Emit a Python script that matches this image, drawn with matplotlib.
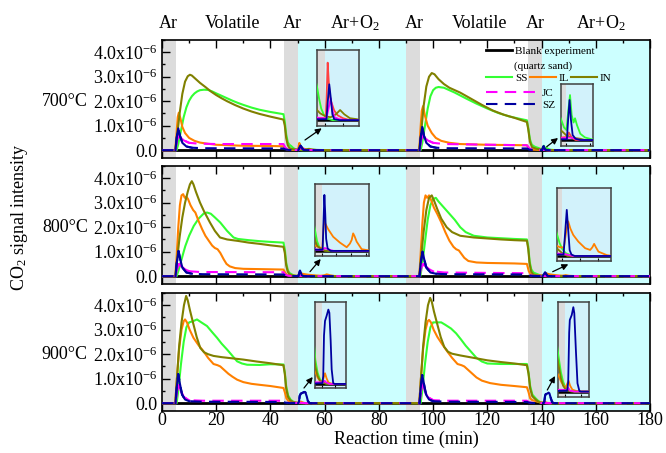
import matplotlib
matplotlib.use("Agg")
import matplotlib.pyplot as plt
import matplotlib.transforms as mtransforms
from matplotlib.ticker import MultipleLocator, FuncFormatter

plt.rcParams['font.family'] = 'Liberation Serif'
plt.rcParams['mathtext.fontset'] = 'custom'
plt.rcParams['mathtext.rm'] = 'Liberation Serif'
plt.rcParams['mathtext.it'] = 'Liberation Serif:italic'
plt.rcParams['font.size'] = 13
plt.rcParams['axes.linewidth'] = 1.2

# CO2 signal (x1e-6) vs reaction time (min), two repeated runs per temperature
temps = ['700°C', '800°C', '900°C']
stages = ['Ar', 'Volatile', 'Ar', 'Ar+O$_2$', 'Ar', 'Volatile', 'Ar', 'Ar+O$_2$']
stage_pos = [2.2, 26, 48, 71, 93, 117, 137.6, 162]
purge_spans = [(0, 5), (45, 50), (90, 95), (135, 140)]
o2_spans = [(50, 90), (140, 180)]
blank = [(0, 0), (180, 0)]
# time windows where the dashed traces are drawn continuous (sharp peaks)
peak_windows = [(4.5, 11), (49.5, 56), (94.5, 101), (139.5, 146)]

ss_700 = [(0, 0), (5.4, 0), (6, 0.25), (7, 0.8), (8, 1.35), (9, 1.75), (10, 2.02), (11, 2.2), (12, 2.32), (13, 2.4),
          (14, 2.45), (15.5, 2.47), (17, 2.46), (18.5, 2.4), (20, 2.32), (22, 2.22), (24, 2.12), (26, 2.02), (28, 1.93),
          (30, 1.85), (33, 1.74), (36, 1.65), (40, 1.56), (44.8, 1.47), (45.3, 1.15), (45.8, 0.65), (46.4, 0.32),
          (47.0, 0.22), (47.6, 0.172), (48.2, 0.11), (48.8, 0.06), (49.5, 0.03), (50.3, 0.01), (52, 0), (90, 0),
          (95.4, 0), (96, 0.3), (97, 1.0), (98, 1.7), (99, 2.2), (100, 2.45), (101, 2.55), (102, 2.58), (104, 2.55),
          (106, 2.45), (108, 2.35), (112, 2.12), (116, 1.9), (120, 1.7), (124, 1.52), (128, 1.38), (132, 1.28),
          (134.6, 1.22), (135.1, 0.9), (135.7, 0.45), (136.4, 0.22), (137.5, 0.14), (138.9, 0.087), (139.6, 0.05),
          (140.1, 0.04), (140.5, 0.12), (140.85, 0.18), (141.2, 0.1), (141.6, 0.07), (141.9, 0.087), (142.3, 0.06),
          (143, 0.025), (144, 0.01), (146, 0), (180, 0)]
il_700 = [(0, 0), (4.9, 0), (5.3, 0.6), (5.8, 1.35), (6.2, 1.53), (6.8, 1.3), (7.5, 0.95), (8.5, 0.7), (10, 0.5),
          (12, 0.38), (14, 0.31), (17, 0.26), (20, 0.22), (25, 0.2), (30, 0.18), (40, 0.17), (44.8, 0.16), (45.4, 0.08),
          (46, 0.03), (47, 0.012), (50.1, 0.01), (50.35, 0.12), (50.65, 0.295), (50.95, 0.2), (51.3, 0.12),
          (51.8, 0.087), (52.5, 0.05), (53.5, 0.025), (55, 0.01), (57, 0), (90, 0), (94.9, 0), (95.3, 0.8),
          (95.8, 1.6), (96.3, 1.8), (97, 1.4), (98, 1.0), (99.5, 0.7), (101, 0.5), (103, 0.38), (106, 0.3),
          (110, 0.25), (120, 0.22), (134.6, 0.2), (135.5, 0.06), (137, 0.02), (139, 0.01), (140.3, 0.012),
          (140.6, 0.03), (141.2, 0.01), (142, 0), (180, 0)]
in_700 = [(0, 0), (4.8, 0), (5.5, 0.5), (6.5, 1.5), (7.5, 2.3), (8.5, 2.8), (9.5, 3.02), (10.3, 3.08), (11, 3.05),
          (12, 2.95), (14, 2.75), (16, 2.58), (18, 2.4), (20, 2.25), (22, 2.12), (24, 2.0), (27, 1.84), (30, 1.7),
          (33, 1.58), (36, 1.48), (40, 1.37), (44.8, 1.25), (45.3, 1.0), (45.8, 0.5), (46.4, 0.2), (47, 0.09),
          (47.6, 0.052), (48.5, 0.035), (50, 0.02), (51.5, 0.015), (53, 0.03), (54.2, 0.052), (55.4, 0.03),
          (57, 0.01), (59, 0.005), (60, 0), (90, 0), (94.8, 0), (95.5, 0.6), (96.5, 1.8), (97.5, 2.6), (98.5, 3.0),
          (99.5, 3.15), (100.5, 3.1), (102, 2.9), (104, 2.7), (106, 2.55), (108, 2.45), (110, 2.35), (114, 2.1),
          (118, 1.85), (122, 1.62), (126, 1.45), (130, 1.32), (134.6, 1.15), (135.1, 0.85), (135.7, 0.35),
          (136.5, 0.12), (138, 0.06), (138.9, 0.04), (140, 0.02), (141, 0.01), (143, 0.005), (144, 0), (180, 0)]
jc_700 = [(0, 0), (5, 0), (5.5, 0.4), (6.2, 0.6), (7, 0.5), (8, 0.4), (10, 0.3), (13, 0.27), (20, 0.25), (44.8, 0.25),
          (45.5, 0.1), (46.5, 0.03), (48, 0.01), (50.3, 0.01), (50.9, 0.06), (51.5, 0.112), (52, 0.05), (52.6, 0.015),
          (54, 0.005), (56, 0), (90, 0), (95, 0), (95.5, 0.4), (96.2, 0.6), (97, 0.5), (98, 0.4), (100, 0.3),
          (104, 0.25), (134.6, 0.2), (135.5, 0.07), (137, 0.02), (139, 0.007), (141, 0.01), (142, 0.005), (143, 0),
          (180, 0)]
sz_700 = [(0, 0), (5, 0), (5.4, 0.5), (6, 0.89), (6.6, 0.6), (7.5, 0.3), (9, 0.15), (11, 0.1), (15, 0.08), (44.8, 0.07),
          (45.5, 0.03), (47, 0.005), (50.3, 0.005), (50.7, 0.1), (51.1, 0.184), (51.5, 0.12), (52, 0.03), (52.5, 0.005),
          (54, 0), (90, 0), (95, 0), (95.4, 0.5), (96, 0.95), (96.6, 0.6), (97.5, 0.3), (99, 0.15), (101, 0.1),
          (105, 0.08), (134.6, 0.07), (135.5, 0.02), (137, 0.003), (140.2, 0.003), (140.45, 0.08), (140.75, 0.16),
          (141.05, 0.08), (141.4, 0.02), (142, 0.005), (143, 0), (180, 0)]

ss_800 = [(0, 0), (5.4, 0), (6, 0.2), (7, 0.6), (8, 1.0), (8.6, 1.23), (10, 1.65), (11.7, 2.05), (13.5, 2.35),
          (15.4, 2.56), (16.6, 2.6), (18, 2.55), (19.5, 2.4), (21.5, 2.19), (24, 1.85), (26.4, 1.58), (28, 1.52),
          (32, 1.47), (36, 1.43), (40, 1.4), (44.8, 1.37), (45.3, 1.1), (45.8, 0.55), (46.4, 0.25), (47, 0.13),
          (47.7, 0.086), (48.4, 0.04), (49.2, 0.015), (50.5, 0.005), (52, 0), (90, 0), (95.3, 0), (96, 0.5),
          (97, 1.4), (98, 2.3), (99, 2.9), (100, 3.15), (101, 3.2), (102, 3.05), (104, 2.8), (106, 2.55), (108, 2.3),
          (110, 2.0), (112, 1.8), (115, 1.65), (120, 1.58), (125, 1.55), (130, 1.52), (134.6, 1.5), (135.1, 1.2),
          (135.6, 0.6), (136.2, 0.28), (137, 0.15), (138.5, 0.079), (139.3, 0.045), (140, 0.025), (141, 0.01),
          (142, 0.005), (143, 0), (180, 0)]
il_800 = [(0, 0), (4.9, 0), (5.4, 0.8), (6, 2.0), (6.6, 2.9), (7.2, 3.3), (7.8, 3.35), (8.4, 3.2), (9, 3.25),
          (9.6, 3.15), (10.5, 2.9), (11.5, 2.7), (12.3, 2.6), (13.5, 2.25), (14.8, 1.92), (16, 1.65), (17.3, 1.44),
          (18.5, 1.25), (19.5, 1.15), (20.5, 1.1), (21.5, 0.95), (22.8, 0.68), (23.8, 0.5), (25, 0.4), (27, 0.33),
          (30, 0.3), (35, 0.29), (40, 0.28), (44.8, 0.27), (45.4, 0.15), (46, 0.06), (47, 0.03), (48, 0.02),
          (50.2, 0.01), (50.5, 0.07), (50.8, 0.127), (51.3, 0.11), (52.2, 0.089), (53.9, 0.058), (56.2, 0.034),
          (58.5, 0.015), (59.6, 0.03), (60.2, 0.045), (60.7, 0.072), (61.2, 0.06), (61.9, 0.038), (63.6, 0.007),
          (66, 0.002), (68, 0), (90, 0), (94.9, 0), (95.4, 0.9), (96, 2.1), (96.6, 3.0), (97.2, 3.3), (97.8, 3.2),
          (98.5, 3.3), (99.3, 3.1), (100.3, 2.8), (101.5, 2.55), (103, 2.2), (104.5, 1.8), (106, 1.45), (107.5, 1.2),
          (108.5, 1.1), (109.5, 1.05), (110.5, 0.9), (111.5, 0.75), (113, 0.62), (116, 0.56), (120, 0.54),
          (130, 0.52), (134.6, 0.5), (135.3, 0.2), (136, 0.08), (137, 0.045), (138.5, 0.035), (139.5, 0.03),
          (140.5, 0.03), (141.2, 0.09), (141.7, 0.12), (142.3, 0.095), (143.1, 0.073), (144.5, 0.05), (146.4, 0.027),
          (147.8, 0.021), (148.4, 0.03), (148.9, 0.042), (149.4, 0.03), (150.1, 0.015), (152.4, 0.003), (154, 0),
          (180, 0)]
in_800 = [(0, 0), (4.9, 0), (5.5, 0.6), (6.5, 1.6), (7.5, 2.4), (8.5, 3.0), (9.5, 3.45), (10.3, 3.75), (11, 3.88),
          (11.6, 3.75), (12.5, 3.45), (14, 3.01), (15.5, 2.65), (17.7, 2.19), (19.5, 1.85), (21.4, 1.58), (24, 1.5),
          (28, 1.44), (32, 1.37), (36, 1.32), (40, 1.26), (44.8, 1.2), (45.3, 0.95), (45.8, 0.45), (46.4, 0.18),
          (47, 0.08), (47.7, 0.044), (48.5, 0.02), (49.5, 0.01), (51, 0), (90, 0), (94.9, 0), (95.5, 0.7),
          (96.5, 1.8), (97.5, 2.7), (98.5, 3.2), (99.5, 3.3), (100.3, 3.1), (101.5, 2.75), (103, 2.35), (105, 2.0),
          (107, 1.8), (110, 1.65), (115, 1.58), (120, 1.54), (125, 1.5), (130, 1.47), (134.6, 1.45), (135.1, 1.1),
          (135.6, 0.5), (136.2, 0.18), (137, 0.07), (138.5, 0.027), (140, 0.01), (141.5, 0), (180, 0)]
jc_800 = [(0, 0), (5, 0), (5.5, 0.3), (6.3, 0.5), (7.2, 0.4), (8.5, 0.28), (10, 0.2), (14, 0.17), (44.8, 0.16),
          (45.5, 0.06), (46.5, 0.02), (48, 0.005), (50.5, 0.005), (51, 0.012), (52.5, 0.005), (54, 0), (90, 0),
          (95, 0), (95.5, 0.3), (96.3, 0.5), (97.2, 0.4), (98.5, 0.28), (100, 0.2), (104, 0.15), (134.6, 0.12),
          (135.5, 0.04), (137, 0.01), (141, 0.006), (142, 0.003), (143, 0), (180, 0)]
sz_800 = [(0, 0), (5, 0), (5.4, 0.5), (6.1, 1.03), (6.7, 0.7), (7.5, 0.35), (9, 0.15), (11, 0.1), (15, 0.08),
          (44.8, 0.07), (45.5, 0.03), (47, 0.005), (50.3, 0.005), (50.6, 0.12), (50.9, 0.23), (51.2, 0.15),
          (51.5, 0.05), (52, 0.01), (53, 0), (90, 0), (95, 0), (95.4, 0.5), (96.1, 1.0), (96.7, 0.7), (97.5, 0.35),
          (99, 0.15), (101, 0.1), (105, 0.08), (134.6, 0.07), (135.5, 0.03), (137, 0.005), (140.4, 0.005),
          (140.9, 0.09), (141.3, 0.16), (141.7, 0.09), (142.1, 0.02), (142.6, 0.005), (143.5, 0), (180, 0)]

ss_900 = [(0, 0), (5.4, 0), (6, 0.5), (7, 1.6), (8, 2.5), (9, 3.1), (10, 3.3), (11.5, 3.35), (12.9, 3.42), (14.5, 3.3),
          (16.6, 3.15), (18.5, 2.9), (20.3, 2.67), (22, 2.43), (24, 2.19), (26, 1.93), (27.7, 1.71), (29.5, 1.62),
          (31.4, 1.57), (36, 1.56), (40, 1.59), (44.8, 1.58), (45.3, 1.25), (45.8, 0.7), (46.5, 0.32), (47.4, 0.15),
          (48.3, 0.07), (49.2, 0.03), (50.2, 0.01), (51.5, 0.003), (53, 0), (90, 0), (95.4, 0), (96, 0.5), (97, 1.6),
          (98, 2.5), (99, 3.1), (100, 3.3), (101.5, 3.3), (103, 3.3), (104.5, 3.2), (106.6, 3.05), (108.5, 2.85),
          (110.3, 2.6), (112, 2.35), (114, 2.1), (116, 1.85), (118, 1.7), (120, 1.62), (125, 1.6), (130, 1.6),
          (134.6, 1.6), (135.2, 1.25), (135.8, 0.7), (136.6, 0.35), (137.9, 0.187), (138.7, 0.1), (139.4, 0.05),
          (140.2, 0.02), (141.5, 0.005), (143, 0), (180, 0)]
il_900 = [(0, 0), (4.9, 0), (5.5, 1.0), (6.3, 2.2), (7.2, 3.0), (8, 3.35), (8.5, 3.42), (9.2, 3.3), (10.2, 3.0),
          (11.6, 2.67), (13.4, 2.38), (15.3, 2.12), (17, 1.85), (19, 1.6), (20.5, 1.55), (21.5, 1.5), (23, 1.35),
          (24.5, 1.2), (26, 1.08), (27.7, 0.96), (30, 0.86), (33, 0.79), (36, 0.75), (40, 0.7), (44.8, 0.62),
          (45.3, 0.45), (45.9, 0.2), (46.6, 0.1), (47.4, 0.075), (48.3, 0.04), (49.2, 0.02), (50, 0.012),
          (50.6, 0.035), (51.2, 0.066), (51.8, 0.035), (52.5, 0.01), (53.5, 0.003), (55, 0), (90, 0), (94.9, 0),
          (95.5, 1.0), (96.3, 2.2), (97.2, 3.0), (98, 3.35), (98.5, 3.4), (99.2, 3.3), (100.2, 3.0), (101.6, 2.7),
          (103.4, 2.4), (105.3, 2.1), (107, 1.85), (109, 1.6), (110.5, 1.55), (111.5, 1.5), (113, 1.35), (114.5, 1.2),
          (116, 1.05), (118, 0.92), (121, 0.82), (125, 0.75), (130, 0.7), (134.6, 0.65), (135.2, 0.45), (135.8, 0.2),
          (136.6, 0.12), (137.9, 0.084), (138.8, 0.05), (139.6, 0.03), (140.3, 0.02), (140.7, 0.04), (141.1, 0.055),
          (141.6, 0.03), (142.3, 0.01), (143.5, 0.003), (145, 0), (180, 0)]
in_900 = [(0, 0), (4.9, 0), (5.5, 1.0), (6.3, 2.3), (7.2, 3.3), (8.1, 4.0), (8.9, 4.38), (9.5, 4.2), (10.3, 3.8),
          (11.6, 3.22), (12.8, 2.7), (14.1, 2.26), (15.5, 2.08), (17, 2.0), (19, 1.93), (22, 1.88), (26, 1.83),
          (30, 1.78), (35, 1.7), (40, 1.63), (44.8, 1.55), (45.3, 1.2), (45.8, 0.6), (46.5, 0.25), (47.4, 0.107),
          (48.3, 0.05), (49.2, 0.02), (50.2, 0.008), (52, 0), (90, 0), (94.9, 0), (95.5, 1.0), (96.3, 2.3), (97.2, 3.3),
          (98.1, 4.0), (98.9, 4.3), (99.5, 4.15), (100.3, 3.75), (101.6, 3.2), (102.8, 2.7), (104.1, 2.3),
          (105.5, 2.1), (107, 2.02), (110, 1.95), (115, 1.85), (120, 1.75), (125, 1.68), (130, 1.62), (134.6, 1.55),
          (135.2, 1.2), (135.8, 0.6), (136.6, 0.28), (137.9, 0.143), (138.7, 0.07), (139.4, 0.03), (140.2, 0.01),
          (142, 0), (180, 0)]
jc_900 = [(0, 0), (5, 0), (5.5, 0.5), (6.2, 0.75), (7, 0.5), (8, 0.25), (10, 0.12), (15, 0.1), (44.8, 0.1),
          (45.5, 0.04), (46.5, 0.01), (50.5, 0.01), (51, 0.02), (51.6, 0.01), (53, 0), (90, 0), (95, 0), (95.5, 0.5),
          (96.2, 0.8), (97, 0.5), (98, 0.25), (100, 0.12), (105, 0.1), (134.6, 0.1), (135.5, 0.03), (137, 0.01),
          (140.5, 0.008), (141, 0.02), (141.5, 0.005), (143, 0), (180, 0)]
sz_900 = [(0, 0), (5, 0), (5.4, 0.6), (6, 1.19), (6.6, 0.8), (7.4, 0.35), (8.5, 0.15), (10, 0.08), (15, 0.06),
          (44.8, 0.05), (45.5, 0.02), (47, 0.003), (50.2, 0.005), (50.5, 0.05), (50.8, 0.3), (51.2, 0.39),
          (51.8, 0.42), (52.5, 0.46), (52.9, 0.44), (53.4, 0.27), (53.8, 0.09), (54.4, 0.005), (55, 0), (90, 0),
          (95, 0), (95.4, 0.6), (96, 1.15), (96.6, 0.8), (97.4, 0.35), (98.5, 0.15), (100, 0.08), (105, 0.06),
          (134.6, 0.05), (135.5, 0.02), (137, 0.003), (140.7, 0.005), (141.0, 0.05), (141.3, 0.3), (141.5, 0.365),
          (142.1, 0.39), (142.6, 0.43), (142.9, 0.4), (143.4, 0.21), (143.9, 0.042), (144.5, 0.003), (145, 0),
          (180, 0)]

labels = ['SS', 'IL', 'IN', 'JC', 'SZ']
panels = [[ss_700, il_700, in_700, jc_700, sz_700],
          [ss_800, il_800, in_800, jc_800, sz_800],
          [ss_900, il_900, in_900, jc_900, sz_900]]

colors = {'SS': '#33ff33', 'IL': '#ff8000', 'IN': '#808000', 'JC': '#ff00ff', 'SZ': '#0000a0'}
dashed = {'JC', 'SZ'}
GRAY = '#dcdcdc'
CYAN = '#ccffff'
INSET_CYAN = '#d2f2fb'

# zoom windows: (box in px: x0, y0, x1, y1), xlim, ylim (x1e-6), arrow tail px, arrow head px
zooms = [
    [((317, 50, 359, 126), (47.6, 59.6), (-0.03, 0.36), (305, 140), (321.7, 128.3)),
     ((560.7, 84.3, 592.7, 146), (138.9, 145.6), (-0.024, 0.223), (546.7, 146.7), (558, 138))],
    [((315, 184, 368.7, 256), (47.7, 66), (-0.021, 0.275), (310, 271.7), (320.7, 259)),
     ((556.7, 188, 610.7, 260.7), (138.5, 153.5), (-0.0164, 0.236), (552.7, 271.7), (568.3, 264.3))],
    [((315.3, 301.7, 346, 388.3), (47.4, 59.4), (-0.027, 0.509), (304, 388), (312.7, 377)),
     ((558.3, 301.7, 589, 396.7), (137.9, 147.5), (-0.026, 0.458), (547.3, 390), (555, 376))],
]

W, H = 666, 453
fig = plt.figure(figsize=(W / 100, H / 100), dpi=100)


def px_rect(x0, y0, x1, y1):
    return [x0 / W, 1 - y1 / H, (x1 - x0) / W, (y1 - y0) / H]


def unzip(pts):
    return [p[0] for p in pts], [p[1] * 1e-6 for p in pts]


def sci_label(v, pos):
    m = v * 1e6
    if abs(m) < 1e-9:
        return '0.0'
    return f'{m:.1f}x10$^{{-6}}$'


def draw_curves(ax, series, lw, il_color=None, solid=False):
    handles = {}
    h, = ax.plot(*unzip(blank), color='black', lw=lw + 0.5, zorder=2)
    handles['blank'] = h
    for name, pts in zip(labels, series):
        c = colors[name]
        if name == 'IL' and il_color:
            c = il_color
        if name in dashed and not solid:
            h, = ax.plot(*unzip(pts), color=c, lw=lw, ls=(0, (5.5, 3.5)), zorder=3)
            # steep peaks read as continuous strokes
            for a, b in peak_windows:
                ax.plot(*unzip([p for p in pts if a <= p[0] <= b]), color=c, lw=lw, zorder=3)
        else:
            h, = ax.plot(*unzip(pts), color=c, lw=lw, zorder=3)
        handles[name] = h
    return handles


panel_rows = [(40, 158), (166, 284), (293, 411)]
axes = []
for i, (top, bot) in enumerate(panel_rows):
    ax = fig.add_axes(px_rect(162, top, 650, bot))
    for a, b in purge_spans:
        ax.axvspan(a, b, color=GRAY, lw=0, zorder=0)
    for a, b in o2_spans:
        ax.axvspan(a, b, color=CYAN, lw=0, zorder=0)
    hd = draw_curves(ax, panels[i], 1.5)
    if i == 0:
        legend_handles = hd
    ax.set_xlim(0, 180)
    ax.set_ylim(-0.32e-6, 4.5e-6)
    ax.xaxis.set_major_locator(MultipleLocator(20))
    ax.xaxis.set_minor_locator(MultipleLocator(10))
    ax.yaxis.set_major_locator(MultipleLocator(1e-6))
    ax.yaxis.set_minor_locator(MultipleLocator(0.5e-6))
    ax.yaxis.set_major_formatter(FuncFormatter(sci_label))
    ax.tick_params(axis='both', which='major', direction='in', length=5.5, width=1, labelsize=13)
    ax.tick_params(axis='both', which='minor', direction='in', length=2.5, width=1)
    ax.tick_params(axis='x', which='both', top=True, bottom=True, pad=1)
    ax.tick_params(axis='x', which='minor', bottom=False)
    ax.tick_params(axis='y', which='both', right=False, pad=3)
    if i < 2:
        ax.tick_params(axis='x', labelbottom=False)
    trans = mtransforms.blended_transform_factory(ax.transAxes, ax.transData)
    ax.text(-0.152, 2e-6, temps[i], transform=trans, ha='right', va='center', fontsize=13)
    axes.append(ax)

axes[-1].set_xlabel('Reaction time (min)', fontsize=13, labelpad=1)
fig.text(20 / W, 1 - 217 / H, 'CO$_2$ signal intensity', rotation=90, ha='center', va='center', fontsize=13)

top_trans = mtransforms.blended_transform_factory(axes[0].transData, axes[0].transAxes)
for name, pos in zip(stages, stage_pos):
    axes[0].text(pos, 1.10, name, transform=top_trans, ha='center', va='baseline', fontsize=13)

# legend, split in three blocks
ax0 = axes[0]
leg_kw = dict(frameon=False, fontsize=8, borderpad=0, borderaxespad=0, handletextpad=0.25,
              bbox_transform=fig.transFigure, loc='center left')
leg1 = ax0.legend([legend_handles['blank']], ['Blank experiment'], handlelength=2.35,
                  bbox_to_anchor=(486 / W, 1 - 50.7 / H), **leg_kw)
ax0.add_artist(leg1)
fig.text(514 / W, 1 - 65.7 / H, '(quartz sand)', fontsize=8, va='center')
leg2 = ax0.legend([legend_handles[k] for k in ['SS', 'IL', 'IN']], ['SS', 'IL', 'IN'], ncol=3,
                  handlelength=2.35, columnspacing=0.2, bbox_to_anchor=(486 / W, 1 - 78.3 / H), **leg_kw)
ax0.add_artist(leg2)
ax0.legend([legend_handles[k] for k in ['JC', 'SZ']], ['JC', 'SZ'], handlelength=4.8, labelspacing=0.2,
           bbox_to_anchor=(486 / W, 1 - 99 / H), **leg_kw)

# zoomed views of the oxidation peaks
for i, row in enumerate(zooms):
    for box, xl, yl, tail, head in row:
        ins = fig.add_axes(px_rect(*box))
        ins.set_facecolor(INSET_CYAN)
        for a, b in purge_spans:
            ins.axvspan(a, b, color=GRAY, lw=0, zorder=0)
        draw_curves(ins, panels[i], 1.3, il_color='#ff4040' if i == 0 else None, solid=True)
        ins.set_xlim(*xl)
        ins.set_ylim(yl[0] * 1e-6, yl[1] * 1e-6)
        ins.xaxis.set_major_locator(MultipleLocator(5))
        ins.tick_params(axis='x', direction='in', length=2, width=0.8, labelbottom=False)
        ins.tick_params(axis='y', left=False, labelleft=False)
        for sp in ins.spines.values():
            sp.set_color('#404040')
            sp.set_linewidth(1.1)
        ins.annotate('', xy=(head[0], H - head[1]), xytext=(tail[0], H - tail[1]),
                     xycoords='figure pixels', textcoords='figure pixels',
                     arrowprops=dict(arrowstyle='-|>', color='black', lw=0.9, mutation_scale=9,
                                     shrinkA=0, shrinkB=0))

fig.savefig('out.png', dpi=100)
